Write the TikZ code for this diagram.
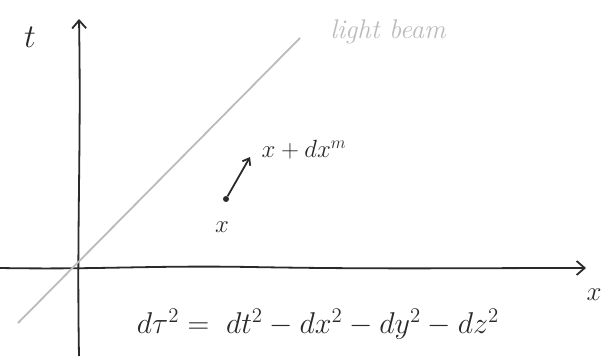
\documentclass[tikz,border=0pt]{standalone}
\usetikzlibrary{arrows.meta}
\definecolor{ink}{HTML}{2A2A2A}
\definecolor{beam}{HTML}{BBBBBB}
\begin{document}
\begin{tikzpicture}[x=1pt,y=-1pt,
  axis/.style={draw=ink,line width=1.8pt,-{Straight Barb[length=8pt,width=14pt]}},
  lbl/.style={text=ink,inner sep=0pt},
  beamline/.style={draw=beam,line width=1.8pt}]
\useasboundingbox (0,0) rectangle (602,356);
% axes
\coordinate (tb) at (79,356);
\coordinate (tt) at (79,19);
\coordinate (xl) at (0,268);
\coordinate (xr) at (586,268);
\draw[axis] (tb) to[out=91,in=-89] (tt);
\draw[axis] (xl) to[out=-1,in=179] (250,267) to[out=-1,in=180] (xr);
% light beam
\coordinate (bb) at (18,323);
\coordinate (bt) at (300,38);
\draw[beamline] (bb) -- (bt);
\node[text=beam,font=\huge\itshape,inner sep=0pt,scale=1.3] (beamlbl) at (388,32) {light beam};
% labels
\node[lbl,font=\huge,scale=1.6] (tlbl) at (30,37) {$t$};
\node[lbl,font=\huge,scale=1.3] (xlbl) at (594,295) {$x$};
% event
\node[circle,fill=ink,inner sep=0pt,minimum size=6pt] (p) at (226,199) {};
\coordinate (q) at (250,157);
\draw[ink,line width=1.8pt,-{Straight Barb[length=6pt,width=9pt]}] (p) -- (q);
\node[lbl,font=\huge,scale=1.2] (plbl) at (222,227) {$x$};
\node[lbl,font=\huge,scale=1.2] (qlbl) at (304,150) {$x+dx^m$};
% equation
\node[lbl,font=\huge,scale=1.45] (eq) at (318,324) {$d\tau^2 = \; dt^2 - dx^2 - dy^2 - dz^2$};
\end{tikzpicture}
\end{document}
